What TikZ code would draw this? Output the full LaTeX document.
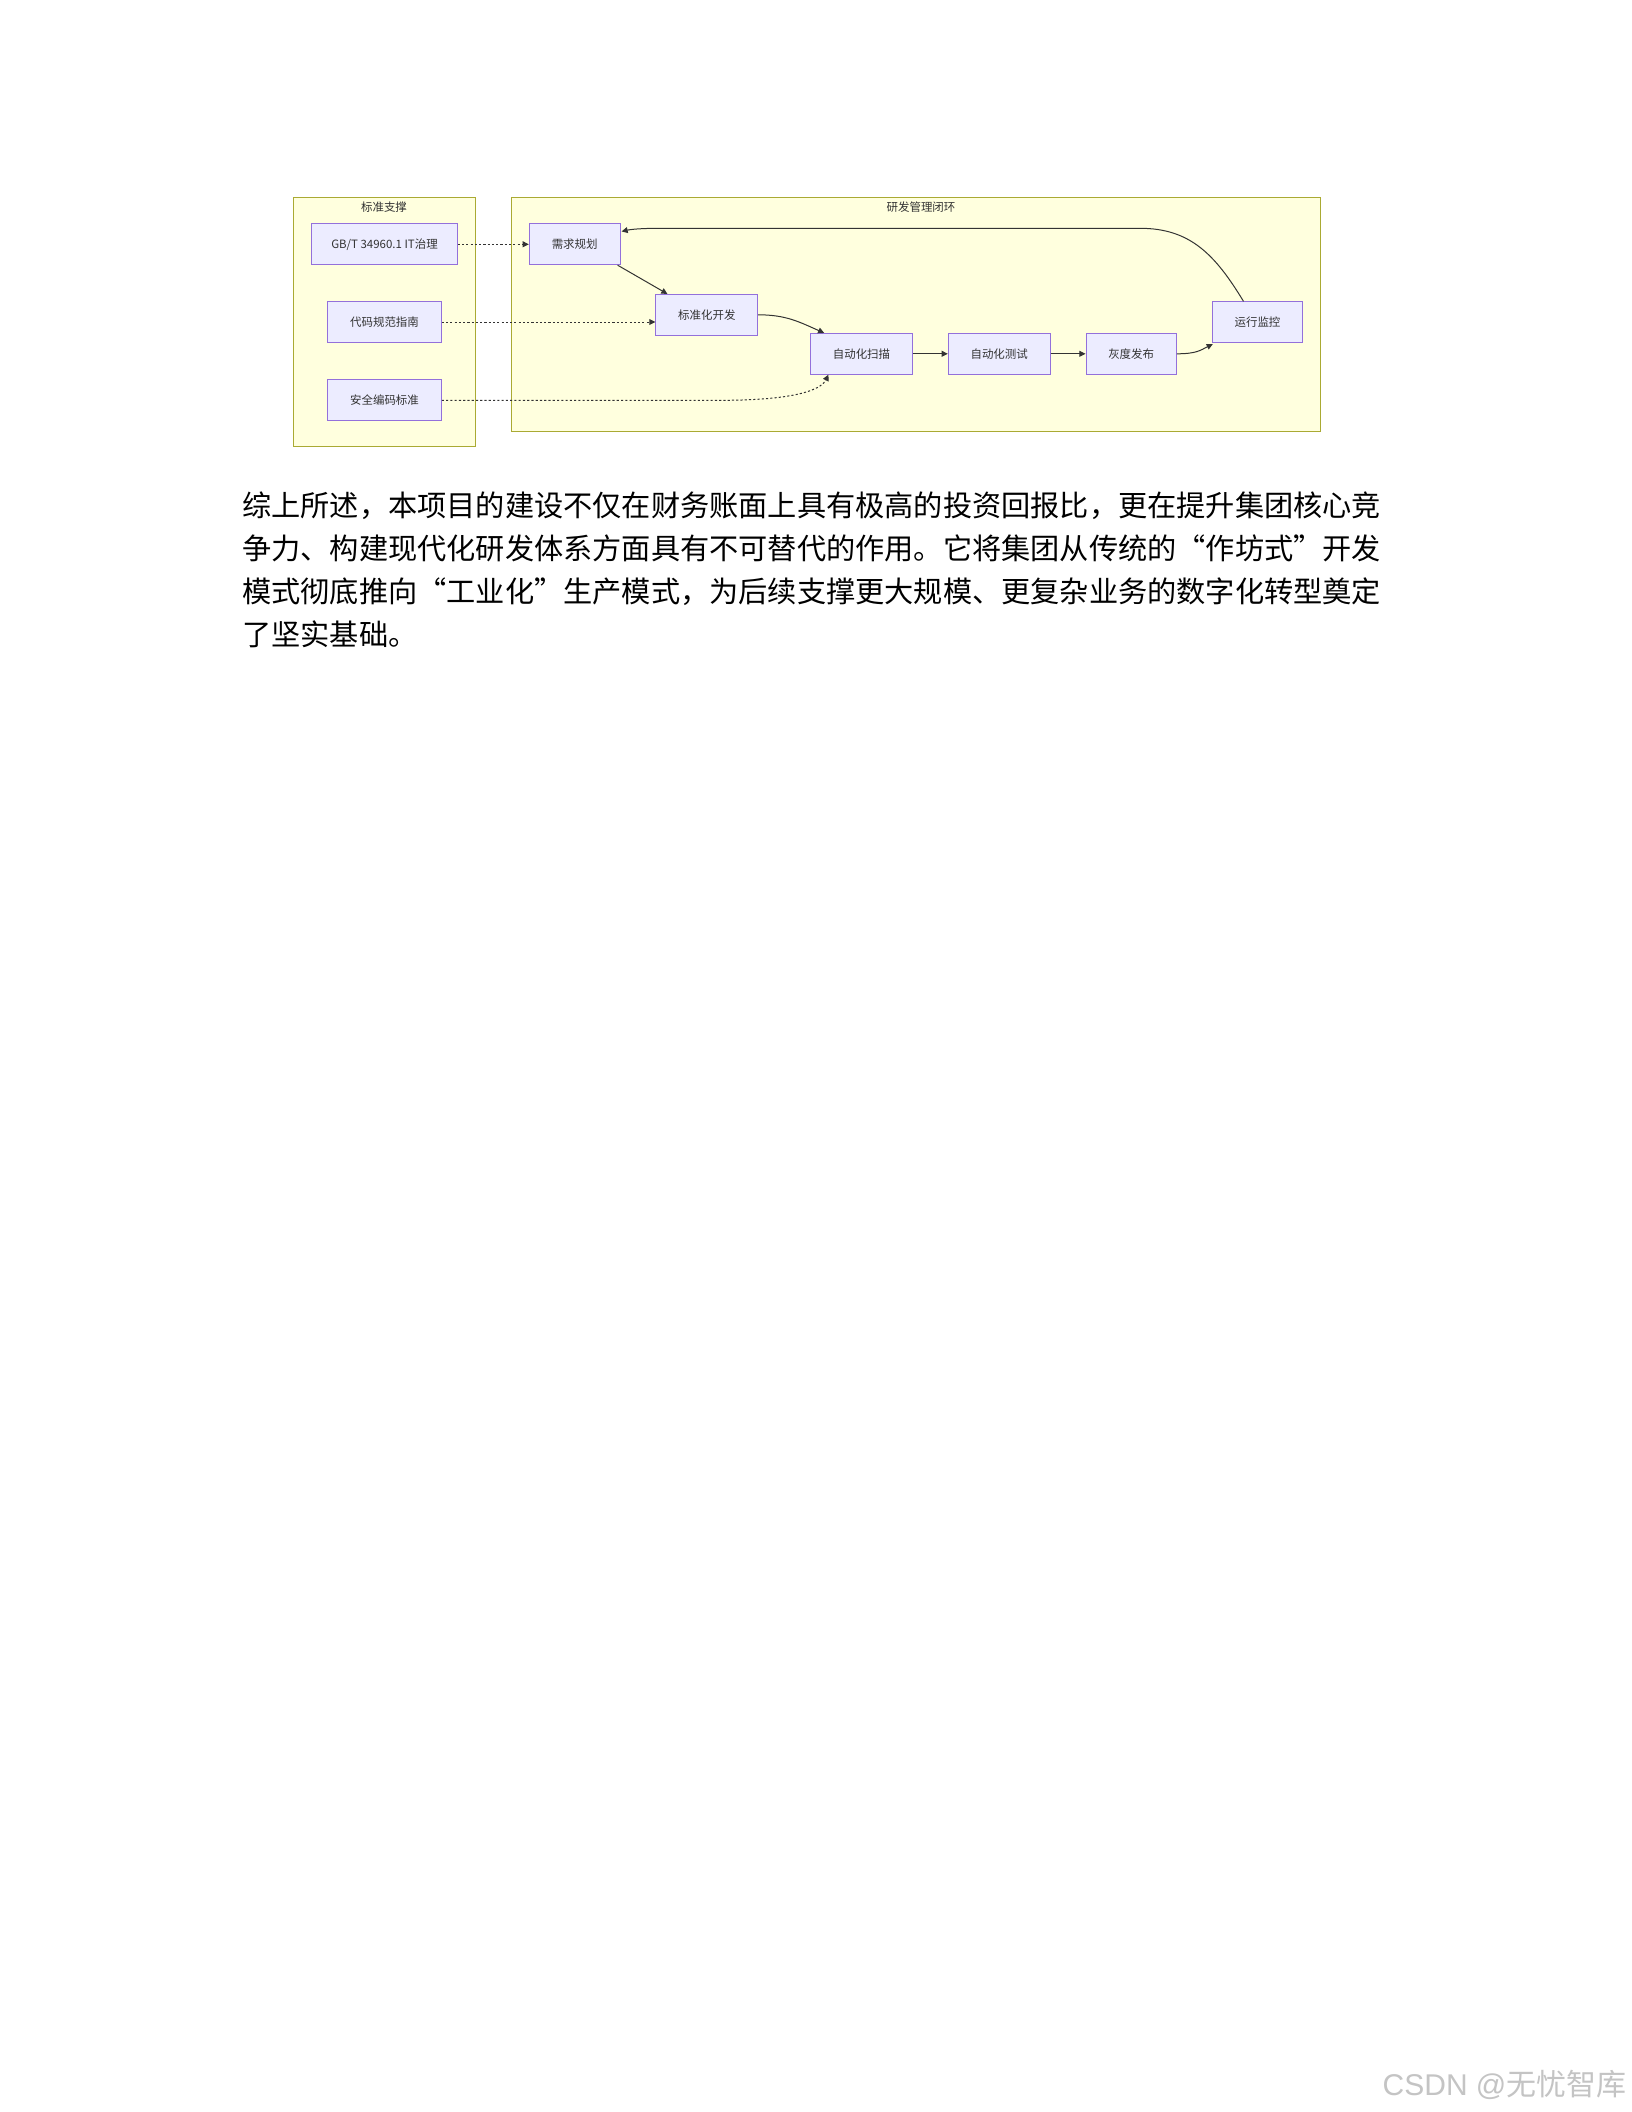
\documentclass[tikz,border=0pt]{standalone}
\usepackage{fontspec}
\setmainfont{Noto Sans CJK SC}
\newfontfamily\cjk{Noto Sans CJK SC}
\newfontfamily\latwm{Liberation Sans}
\usetikzlibrary{arrows.meta,calc}
\definecolor{clfill}{HTML}{FFFFDE}
\definecolor{cldraw}{HTML}{AAAA33}
\definecolor{ndfill}{HTML}{ECECFF}
\definecolor{nddraw}{HTML}{9370DB}
\definecolor{edgecol}{HTML}{333333}
\definecolor{wmcol}{HTML}{C4C4C4}
\def\pu{0.375pt}
\newcommand\myLQ{\makebox[1em][r]{“}}
\newcommand\myRQ{\makebox[1em][l]{”}}
\tikzset{
  cluster/.style={draw=cldraw, fill=clfill, line width=\pu, inner sep=0},
  cltitle/.style={inner sep=0, text=edgecol, font=\cjk\fontsize{4.3pt}{5pt}\selectfont},
  nd/.style={draw=nddraw, fill=ndfill, line width=\pu, minimum height=40.7*\pu, inner sep=0,
             text=edgecol, font=\cjk\fontsize{4.3pt}{5pt}\selectfont},
  link/.style={draw=edgecol, line width=\pu, -{Triangle[length=2.3pt,width=2.2pt]}},
  dotlink/.style={link, dash pattern=on 0.8pt off 0.8pt},
  bodyline/.style={anchor=base west, inner sep=0, text=black, font=\cjk\fontsize{10.95pt}{16.25pt}\selectfont}
}
\begin{document}
\begin{tikzpicture}[x=0.375pt,y=-0.375pt]
\useasboundingbox (0,0) rectangle (1632,2112);
\fill[white] (0,0) rectangle (1632,2112);

% clusters
\node[cluster, minimum width=182.4*\pu, minimum height=249*\pu] (lc) at (384.5,322.2) {};
\node[cltitle] (lct) at (384,206.7) {标准支撑};
\node[cluster, minimum width=809*\pu, minimum height=233.3*\pu] (rc) at (916.2,314.35) {};
\node[cltitle] (rct) at (921,206.7) {研发管理闭环};

% nodes
\node[nd, minimum width=145.6*\pu] (gbt)  at (384.5,244.3) {GB/T 34960.1 IT治理};
\node[nd, minimum width=113.6*\pu] (code) at (384.5,322)   {代码规范指南};
\node[nd, minimum width=113.6*\pu] (sec)  at (384.5,400.3) {安全编码标准};
\node[nd, minimum width=90.7*\pu]  (req)  at (574.7,244.3) {需求规划};
\node[nd, minimum width=101.7*\pu] (dev)  at (706.8,314.8) {标准化开发};
\node[nd, minimum width=101.6*\pu] (scan) at (861.5,353.8) {自动化扫描};
\node[nd, minimum width=101.7*\pu] (test) at (999.2,353.8) {自动化测试};
\node[nd, minimum width=90.3*\pu]  (gray) at (1131.2,353.8) {灰度发布};
\node[nd, minimum width=90.4*\pu]  (mon)  at (1257.5,322.2) {运行监控};

% dotted links from standards
\draw[dotlink] (gbt.east) -- (req.west);
\draw[dotlink] (code.east) -- (code.east -| dev.west);
\coordinate (scanin) at ($(scan.south)+(-33,0)$);
\draw[dotlink] (sec.east) -- ($(sec.east)+(280,0)$)
   .. controls ($(sec.east)+(350,0)$) and ($(scanin)+(-8,16)$) .. (scanin);

% solid flow
\draw[link] ($(req.south east)+(-3,0)$) -- ($(dev.north west)+(12,0)$);
\draw[link] (dev.east) .. controls +(28,0) and +(-25,-11) .. ($(scan.north west)+(14,0)$);
\draw[link] (scan.east) -- (test.west);
\draw[link] (test.east) -- (gray.west);
\draw[link] (gray.east) .. controls +(20,0) and +(-12,6) .. ($(mon.south west)+(1,1)$);
\coordinate (fb1) at (1140,228.3);
\coordinate (fb2) at (660,228.3);
\draw[link] ($(mon.north)+(-14,0)$) .. controls +(-28.5,-47) and +(50,0) .. (fb1)
   -- (fb2) .. controls +(-20,0) and +(9,-2) .. ($(req.north east)+(1,8)$);

% paragraph
\node[bodyline] (l1) at (241.7,516) {综上所述，本项目的建设不仅在财务账面上具有极高的投资回报比，更在提升集团核心竞};
\node[bodyline] (l2) at (241.7,559.3) {争力、构建现代化研发体系方面具有不可替代的作用。它将集团从传统的\myLQ 作坊式\myRQ 开发};
\node[bodyline] (l3) at (241.7,602.6) {模式彻底推向\myLQ 工业化\myRQ 生产模式，为后续支撑更大规模、更复杂业务的数字化转型奠定};
\node[bodyline] (l4) at (241.7,645.9) {了坚实基础。};

% watermark
\node[anchor=base east, inner sep=0, text=wmcol] (wm) at (1627,2095)
  {\fontsize{11.25pt}{13pt}\selectfont{\latwm CSDN @}{\cjk 无忧智库}};
\end{tikzpicture}
\end{document}
